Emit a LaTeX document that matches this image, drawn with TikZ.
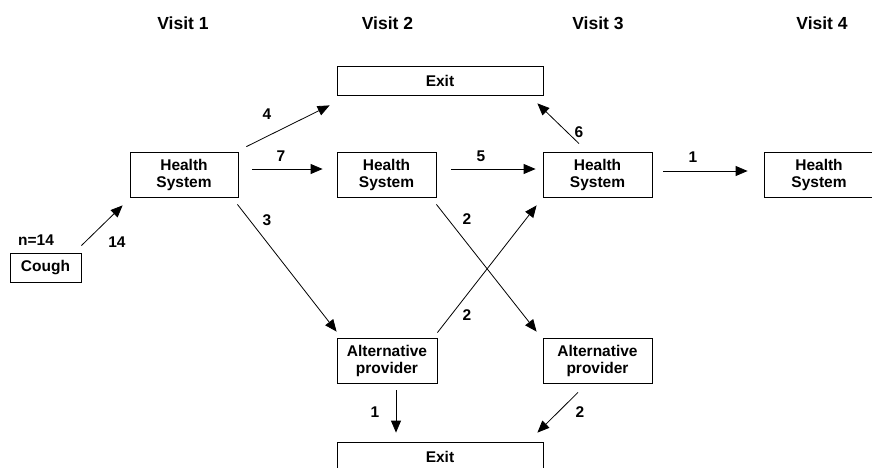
\documentclass[tikz,border=0pt]{standalone}
\usepackage{fontspec}
\setmainfont{Liberation Sans}
\usetikzlibrary{calc,arrows.meta}
\begin{document}
\begin{tikzpicture}[x=1pt,y=1pt,
  box/.style={draw,line width=0.8pt,inner sep=0pt,align=center,
    font=\fontsize{15.5}{17}\selectfont\bfseries},
  hdr/.style={font=\fontsize{17.5}{20}\selectfont\bfseries,inner sep=0pt},
  lbl/.style={font=\fontsize{15.5}{17}\selectfont\bfseries,inner sep=0pt},
  arr/.style={line width=0.8pt,-{Triangle[length=12pt,width=10pt]}}]
\clip (0,0) rectangle (872,467);
\fill[white] (0,0) rectangle (872,467);
% headers
\node[hdr] (v1) at (183,444) {Visit 1};
\node[hdr] (v2) at (387.5,444) {Visit 2};
\node[hdr] (v3) at (598,444) {Visit 3};
\node[hdr] (v4) at (822,444) {Visit 4};
% boxes
\node[box,minimum width=71pt,minimum height=29pt] (cough) at (45.5,199.5) {Cough};
\node[box,minimum width=108pt,minimum height=45pt] (hs1) at (184,292.5) {Health\\System};
\node[box,minimum width=206pt,minimum height=29pt] (exitT) at (440,386.5) {Exit};
\node[box,minimum width=99pt,minimum height=45pt] (hs2) at (386.5,292.5) {Health\\System};
\node[box,minimum width=109pt,minimum height=45pt] (hs3) at (597.5,292.5) {Health\\System};
\node[box,minimum width=110pt,minimum height=45pt] (hs4) at (819,292.5) {Health\\System};
\node[box,minimum width=100pt,minimum height=45pt] (alt1) at (387,106.5) {Alternative\\provider};
\node[box,minimum width=109pt,minimum height=45pt] (alt2) at (597.5,106.5) {Alternative\\provider};
\node[box,minimum width=206pt,minimum height=29pt] (exitB) at (440,10.5) {Exit};
% arrows
\draw[arr] ($(cough.north east)+(0,7)$) -- ($(hs1.south west)+(-7,-8)$);
\draw[arr] ($(hs1.north east)+(8,5)$) -- ($(exitT.south west)+(-7,-10)$);
\draw[arr] ($(hs1.east)+(14,5.5)$) -- ($(hs2.west)+(-14,5.5)$);
\draw[arr] ($(hs1.south east)+(-1,-7)$) -- ($(alt1.north west)+(0,6)$);
\draw[arr] ($(hs2.east)+(15,5.5)$) -- ($(hs3.west)+(-7,5.5)$);
\draw[arr] ($(hs2.south east)+(0,-7)$) -- ($(alt2.north west)+(-6,6)$);
\draw[arr] ($(alt1.north east)+(0,5)$) -- ($(hs3.south west)+(-6,-8)$);
\draw[arr] ($(hs3.north)+(-18.5,8)$) -- ($(exitT.south east)+(-6,-8)$);
\draw[arr] ($(hs3.east)+(11,3.5)$) -- ($(hs4.west)+(-16,3.5)$);
\draw[arr] ($(alt1.south)+(9,-7)$) -- ($(exitB.north)+(-44,9)$);
\draw[arr] ($(alt2.south)+(-19.5,-9)$) -- ($(exitB.north east)+(-6,9)$);
% labels
\node[lbl] (ln) at (36,227) {n=14};
\node[lbl] (l14) at (117,225) {14};
\node[lbl] (l4) at (267,353) {4};
\node[lbl] (l7) at (281,311) {7};
\node[lbl] (l3) at (267,247) {3};
\node[lbl] (l5) at (481,311) {5};
\node[lbl] (l2a) at (467,248) {2};
\node[lbl] (l2b) at (467,152) {2};
\node[lbl] (l6) at (579,335) {6};
\node[lbl] (l1a) at (693,310) {1};
\node[lbl] (l1b) at (375,55) {1};
\node[lbl] (l2c) at (580,55) {2};
\end{tikzpicture}
\end{document}
